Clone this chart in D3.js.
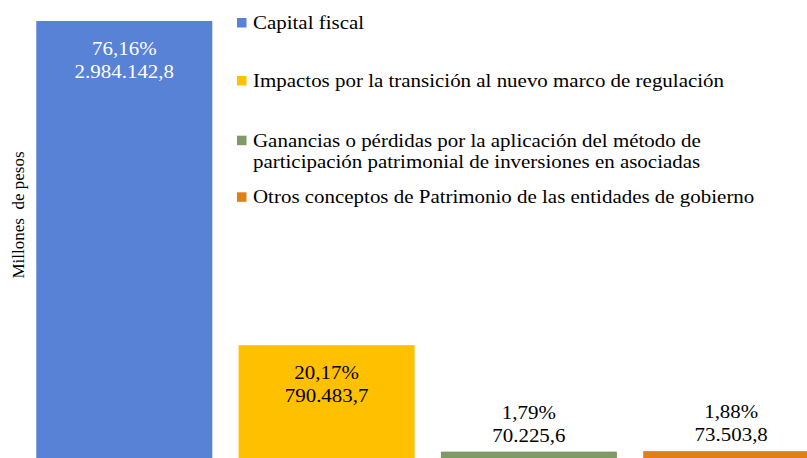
<!DOCTYPE html>
<html><head><meta charset="utf-8">
<script src="https://cdn.jsdelivr.net/npm/d3@7"></script>
<style>html,body{margin:0;padding:0;background:#fff;overflow:hidden}</style>
</head><body><svg id="c" width="807" height="458"></svg>
<script>
const categories = ["Capital fiscal","Impactos por la transición al nuevo marco de regulación","Ganancias o pérdidas por la aplicación del método de participación patrimonial de inversiones en asociadas","Otros conceptos de Patrimonio de las entidades de gobierno"];
const legendLines = [["Capital fiscal"],["Impactos por la transición al nuevo marco de regulación"],["Ganancias o pérdidas por la aplicación del método de","participación patrimonial de inversiones en asociadas"],["Otros conceptos de Patrimonio de las entidades de gobierno"]];
const values = [2984142.8, 790483.7, 70225.6, 73503.8];
const valueLabels = ["2.984.142,8","790.483,7","70.225,6","73.503,8"];
const percentLabels = ["76,16%","20,17%","1,79%","1,88%"];
const colors = ["#5882D6","#FFC000","#7F9A66","#DF7F16"];
const yTitle = "Millones\u00A0 de pesos";

const svg = d3.select("#c");
const FONT = "Liberation Serif";
const FS = 18.8;
const x = d3.scaleBand().domain(d3.range(4)).range([23.15, 832.35]).paddingInner(0.13).paddingOuter(0.065);
const y = d3.scaleLinear().domain([0, values[0]]).range([462, 21]);

svg.selectAll("rect.bar").data(values).join("rect").attr("class","bar")
  .attr("x",(d,i)=>x(i)).attr("width",x.bandwidth())
  .attr("y",d=>y(d)).attr("height",d=>y(0)-y(d))
  .attr("fill",(d,i)=>colors[i]);

const probe = svg.append("text").style("font-family",FONT).style("font-size",FS+"px").text(legendLines[1][0]);
const sx = 471 / probe.node().getComputedTextLength();
probe.remove();

function stretched(parent, tx, ty, anchor, txt, fill){
  parent.append("text").attr("transform",`translate(${tx},${ty}) scale(${sx},1)`)
    .attr("text-anchor",anchor).style("font-family",FONT).style("font-size",FS+"px")
    .attr("fill",fill||"#000").text(txt);
}

const lbl = svg.append("g");
values.forEach((v,i)=>{
  const cx = x(i)+x.bandwidth()/2;
  const inside = i<2;
  const base = inside ? y(v)+34 : y(v)-33;
  const fill = i===0?"#fff":"#000";
  stretched(lbl, cx, base, "middle", percentLabels[i], fill);
  stretched(lbl, cx, base+23, "middle", valueLabels[i], fill);
});

const lg = svg.append("g");
const rowY = [29, 87, 146.7, 203.3];
legendLines.forEach((lines,i)=>{
  lg.append("rect").attr("x",237).attr("y",rowY[i]-11).attr("width",9.5).attr("height",9.5).attr("fill",colors[i]);
  lines.forEach((t,j)=>stretched(lg, 253, rowY[i]+j*21.7, "start", t));
});

svg.append("text").style("font-family",FONT).style("font-size","17px").attr("text-anchor","middle")
  .attr("transform","translate(23.5,215) rotate(-90)").text(yTitle);
</script></body></html>
